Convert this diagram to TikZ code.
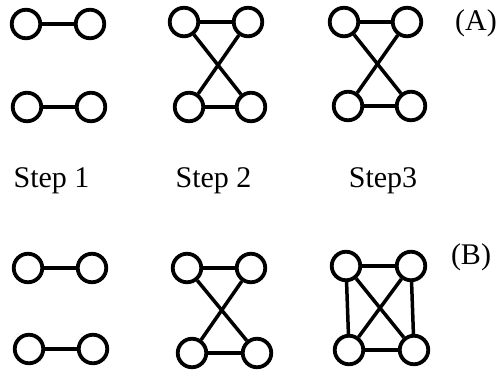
\documentclass[tikz,border=0pt]{standalone}
\usepackage{fontspec}
\setmainfont{Liberation Serif}
\begin{document}
\begin{tikzpicture}[x=1pt,y=-1pt,
  vtx/.style={circle,draw=black,line width=3.8pt,minimum size=28.5pt,inner sep=0pt,fill=white},
  edge/.style={line width=3.5pt,draw=black},
  lbl/.style={font=\fontsize{30}{36}\selectfont,inner sep=0pt}]
\useasboundingbox (0,0) rectangle (501,372);

% ---- row A ----
\node[vtx] (a1) at (26,24) {};  \node[vtx] (a2) at (90,24) {};
\node[vtx] (a3) at (27,107) {}; \node[vtx] (a4) at (91,107) {};

\node[vtx] (b1) at (184,22) {};  \node[vtx] (b2) at (248,22) {};
\node[vtx] (b3) at (189,107) {}; \node[vtx] (b4) at (251,107) {};

\node[vtx] (c1) at (344,22) {};  \node[vtx] (c2) at (407,22) {};
\node[vtx] (c3) at (348,106) {}; \node[vtx] (c4) at (411,106) {};

% ---- row B ----
\node[vtx] (d1) at (28,268) {};  \node[vtx] (d2) at (92,268) {};
\node[vtx] (d3) at (29,349) {};  \node[vtx] (d4) at (93,349) {};

\node[vtx] (e1) at (187,268) {}; \node[vtx] (e2) at (251,268) {};
\node[vtx] (e3) at (192,353) {}; \node[vtx] (e4) at (257,353) {};

\node[vtx] (f1) at (346,266) {}; \node[vtx] (f2) at (411,266) {};
\node[vtx] (f3) at (349,350) {}; \node[vtx] (f4) at (414,350) {};

% edges
\draw[edge] (a1) -- (a2);  \draw[edge] (a3) -- (a4);

\draw[edge] (b1) -- (b2);  \draw[edge] (b3) -- (b4);
\draw[edge] (b1) -- (b4);  \draw[edge] (b2) -- (b3);

\draw[edge] (c1) -- (c2);  \draw[edge] (c3) -- (c4);
\draw[edge] (c1) -- (c4);  \draw[edge] (c2) -- (c3);

\draw[edge] (d1) -- (d2);  \draw[edge] (d3) -- (d4);

\draw[edge] (e1) -- (e2);  \draw[edge] (e3) -- (e4);
\draw[edge] (e1) -- (e4);  \draw[edge] (e2) -- (e3);

\draw[edge] (f1) -- (f2);  \draw[edge] (f3) -- (f4);
\draw[edge] (f1) -- (f4);  \draw[edge] (f2) -- (f3);
\draw[edge] (f1) -- (f3);  \draw[edge] (f2) -- (f4);

% labels
\node[lbl,anchor=base] (s1) at (51.5,187) {Step 1};
\node[lbl,anchor=base] (s2) at (213.5,187) {Step 2};
\node[lbl,anchor=base] (s3) at (383,187) {Step3};
\node[lbl] (la) at (476,23) {(A)};
\node[lbl] (lb) at (471,257) {(B)};
\end{tikzpicture}
\end{document}
